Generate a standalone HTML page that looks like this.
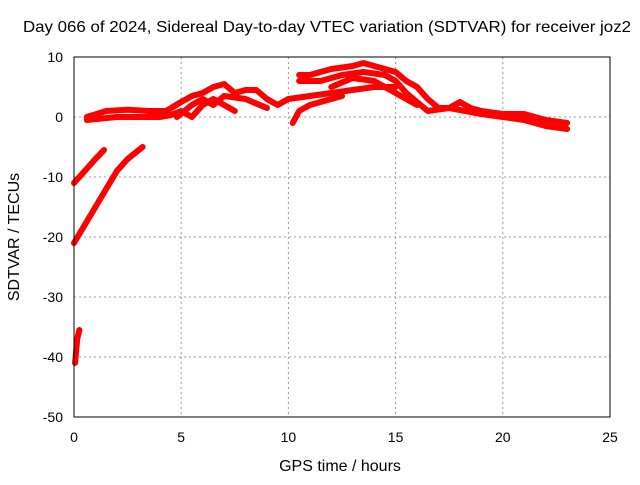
<!DOCTYPE html>
<html><head><meta charset="utf-8"><style>
body{margin:0;background:#fff}
svg text{font-family:"Liberation Sans",sans-serif;font-size:14px;fill:#000}
svg text.big{font-size:16px}
</style></head><body>
<svg id="chart" width="640" height="480" xmlns="http://www.w3.org/2000/svg">
<text class="big" x="327" y="32" text-anchor="middle" textLength="608" lengthAdjust="spacingAndGlyphs">Day 066 of 2024, Sidereal Day-to-day VTEC variation (SDTVAR) for receiver joz2</text>
<text class="big" x="340" y="471" text-anchor="middle">GPS time / hours</text>
<text class="big" transform="translate(19,237) rotate(-90)" text-anchor="middle">SDTVAR / TECUs</text>
<g id="grid"></g>
<g id="ticks"></g>
<g id="series"></g>
<rect x="74" y="57" width="536" height="360" fill="none" stroke="#000" stroke-width="1"/>
</svg>
<script>
const xTicks=[0,5,10,15,20,25];
const yTicks=[10,0,-10,-20,-30,-40,-50];
const traces=[
[[0.6,0],[1.5,1],[2.5,1.2],[3.5,1],[4.3,1],[5,2.5],[5.5,3.5],[6,4],[6.5,5],[7,5.5],[7.5,4],[8,4.5],[8.5,4.5],[9,3],[9.5,2],[10,3],[11,3.5],[12,4],[13,4.5],[14,5],[15,5]],
[[0.6,-0.5],[2,0],[3,0],[4,0],[4.5,0.3],[5,1],[5.5,0],[6,2],[6.5,3],[7,2],[7.5,1]],
[[4.8,0],[5.5,2],[6,3],[6.5,2],[7,3.5],[8,3],[9,1.5]],
[[10.2,-1],[10.5,1],[11,2],[12,3],[12.5,3.5]],
[[10.5,7],[11,7],[12,8],[13,8.5],[13.5,9],[14,8.5],[15,7.5],[15.5,6],[16,5],[16.5,3],[17,1.5],[17.5,1.5],[18,2.5],[18.5,1.5],[19,1],[20,0.5],[21,0.5],[22,-0.5],[23,-1]],
[[10.5,6],[11.5,6],[12.5,7],[13.5,7.5],[14.5,7],[15,6],[15.5,4],[16,2.5],[16.5,1],[17.5,1.5],[19,0.5],[20,0],[21,-0.5],[22,-1.5],[23,-2]],
[[12,5],[13,6.5],[14,6],[15,4],[16,2]],
[[0,-11],[0.5,-9],[1,-7],[1.4,-5.5]],
[[0,-21],[0.5,-18],[1,-15],[1.5,-12],[2,-9],[2.5,-7],[3.2,-5]],
[[0.05,-41],[0.1,-39],[0.15,-37],[0.25,-35.5]]
];
const X=h=>74+h*536/25, Y=v=>417-(v+50)*6;
const NS="http://www.w3.org/2000/svg";
const grid=document.getElementById('grid'),tk=document.getElementById('ticks'),sr=document.getElementById('series');
function mk(tag,at,p){const e=document.createElementNS(NS,tag);for(const k in at)e.setAttribute(k,at[k]);p.appendChild(e);return e;}
xTicks.forEach(t=>{
 if(t>0&&t<25){const l=mk('line',{x1:X(t),x2:X(t),y1:57,y2:417,stroke:'#999','stroke-dasharray':'2,3'},grid);
 
 }
 const tx=mk('text',{x:X(t),y:442,'text-anchor':'middle'},tk);tx.textContent=t;
 
 
});
yTicks.forEach(t=>{
 if(t>-50&&t<10){const l=mk('line',{x1:74,x2:610,y1:Y(t),y2:Y(t),stroke:'#999','stroke-dasharray':'2,3'},grid);
 
 }
 const tx=mk('text',{x:63,y:Y(t)+5,'text-anchor':'end'},tk);tx.textContent=t;
 
 
});
traces.forEach(tr=>{
 const pl=mk('polyline',{points:tr.map(p=>X(p[0])+','+Y(p[1])).join(' '),fill:'none',stroke:'#f00','stroke-width':6,'stroke-linejoin':'round','stroke-linecap':'round'},sr);
 
 
});
</script>
</body></html>
